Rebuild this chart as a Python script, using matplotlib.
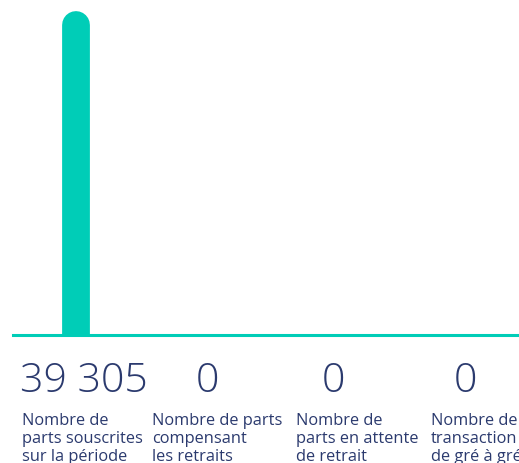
import matplotlib.pyplot as plt

# values
categories = ["Nombre de\nparts souscrites\nsur la période",
              "Nombre de parts\ncompensant\nles retraits",
              "Nombre de\nparts en attente\nde retrait",
              "Nombre de\ntransaction\nde gré à gré"]
values = [39305, 0, 0, 0]
value_labels = ["39 305", "0", "0", "0"]

teal = "#00CDB7"
navy = "#2B3A6E"

fig = plt.figure(figsize=(5.19, 4.64), dpi=100)
W, H = 519, 464
# axes: left edge at baseline start, bottom at baseline
ax = fig.add_axes([13 / W, (H - 336) / H, (W - 13) / W, 336 / H])

# column centres, in pixel-like units along the baseline
xs = [76, 207, 333, 465]
ax.set_xlim(13, 519)
ax.set_ylim(0, 39305 * 336 / 310)

# bars as thick lines with a rounded top, bottom clipped by the axes
for x, v in zip(xs, values):
    if v > 0:
        ax.vlines(x, -5000, v, color=teal, linewidth=20, capstyle="round")

ax.axhline(0, color=teal, linewidth=2.2, clip_on=False)

num_shift = [8, 0, 0, 0]          # the big number sits a bit right of the bar
label_left = [22, 152, 296, 431]
for x, lab, cat, lx, dx in zip(xs, value_labels, categories, label_left, num_shift):
    ax.annotate(lab, xy=(x, 0), xycoords=("data", "axes fraction"),
                xytext=(dx * 0.72, -46 * 0.72), textcoords="offset points",
                ha="center", va="center", fontsize=29.5, color=navy,
                family="Open Sans", weight="light", annotation_clip=False)
    fig.text(lx / W, (H - 413) / H, cat, ha="left", va="top",
             fontsize=11.8, color=navy, family="Open Sans", linespacing=1.15)

ax.axis("off")
fig.savefig("out.png", dpi=100)
